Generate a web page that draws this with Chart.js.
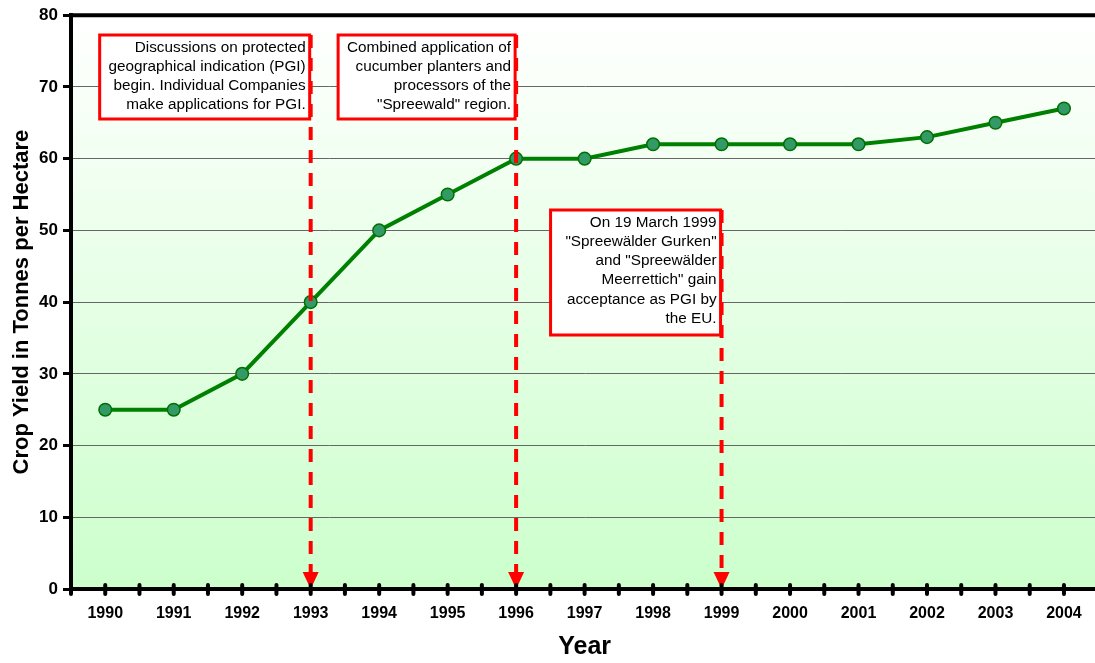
<!DOCTYPE html>
<html>
<head>
<meta charset="utf-8">
<script src="https://cdn.jsdelivr.net/npm/chart.js@4/dist/chart.umd.min.js"></script>
<style>
  html, body { margin: 0; padding: 0; background: #ffffff; overflow: hidden; }
  canvas { display: block; }
</style>
</head>
<body>
<canvas id="c" width="1106" height="663"></canvas>
<script>
// Cucumber crop yield in the Spreewald region
const years = ['1990','1991','1992','1993','1994','1995','1996','1997','1998','1999','2000','2001','2002','2003','2004'];
const yieldTonnes = [25, 25, 30, 40, 50, 55, 60, 60, 62, 62, 62, 62, 63, 65, 67];
const yTicks = [0, 10, 20, 30, 40, 50, 60, 70, 80];

// Milestones marked with a dashed arrow and a note box
const milestoneYears = ['1993', '1996', '1999'];
const milestoneNotes = [
  ['Discussions on protected', 'geographical indication (PGI)', 'begin. Individual Companies', 'make applications for PGI.'],
  ['Combined application of', 'cucumber planters and', 'processors of the', '"Spreewald" region.'],
  ['On 19 March 1999', '"Spreewälder Gurken"', 'and "Spreewälder', 'Meerrettich" gain', 'acceptance as PGI by', 'the EU.']
];
const noteBoxes = [ // width, top, height (px)
  { w: 210, top: 35, h: 84 },
  { w: 177, top: 35, h: 84 },
  { w: 170, top: 210, h: 125 }
];

const FONT = '"Liberation Sans", Arial, Helvetica, sans-serif';

const decorPlugin = {
  id: 'decor',
  beforeDraw(chart) {
    const { ctx, chartArea: a } = chart;
    const g = ctx.createLinearGradient(0, a.top, 0, a.bottom);
    g.addColorStop(0, '#ffffff');
    g.addColorStop(1, '#ccffcc');
    ctx.save();
    ctx.fillStyle = g;
    ctx.fillRect(a.left, a.top, a.right - a.left, a.bottom - a.top);
    ctx.restore();
  },
  afterDatasetsDraw(chart) {
    const { ctx, chartArea: a, scales: { x, y } } = chart;
    ctx.save();
    // top frame line
    ctx.strokeStyle = '#000';
    ctx.lineWidth = 4;
    ctx.beginPath();
    ctx.moveTo(a.left - 2, a.top);
    ctx.lineTo(a.right, a.top);
    ctx.stroke();

    // milestone arrows
    milestoneYears.forEach((yr, k) => {
      const px = x.getPixelForValue(years.indexOf(yr));
      const topY = noteBoxes[k].top;
      const headH = 17, headW = 16;
      ctx.strokeStyle = '#ff0000';
      ctx.lineWidth = 4;
      ctx.setLineDash([13, 10]);
      ctx.beginPath();
      ctx.moveTo(px, topY);
      ctx.lineTo(px, a.bottom - headH);
      ctx.stroke();
      ctx.setLineDash([]);
      ctx.fillStyle = '#ff0000';
      ctx.beginPath();
      ctx.moveTo(px - headW / 2, a.bottom - headH);
      ctx.lineTo(px + headW / 2, a.bottom - headH);
      ctx.lineTo(px, a.bottom);
      ctx.closePath();
      ctx.fill();
    });

    // note boxes
    milestoneYears.forEach((yr, k) => {
      const px = x.getPixelForValue(years.indexOf(yr));
      const b = noteBoxes[k];
      const right = px - 1;
      const left = right - b.w;
      ctx.fillStyle = '#ffffff';
      ctx.fillRect(left, b.top, b.w, b.h);
      ctx.strokeStyle = '#ff0000';
      ctx.lineWidth = 3;
      ctx.strokeRect(left, b.top, b.w, b.h);
      ctx.fillStyle = '#000';
      ctx.font = '15.3px ' + FONT;
      ctx.textAlign = 'right';
      ctx.textBaseline = 'middle';
      milestoneNotes[k].forEach((line, i) => {
        ctx.fillText(line, right - 4, b.top + 12.5 + i * 19.2);
      });
    });

    // x-axis tick marks at every half category
    ctx.strokeStyle = '#000';
    ctx.lineWidth = 4;
    ctx.lineCap = 'round';
    for (let v = -0.5; v <= years.length - 0.5; v += 0.5) {
      const px = x.getPixelForValue(v);
      if (px > a.right + 1) continue;
      ctx.beginPath();
      ctx.moveTo(px, a.bottom - 4);
      ctx.lineTo(px, a.bottom + 5);
      ctx.stroke();
    }
    ctx.restore();
  }
};

new Chart(document.getElementById('c'), {
  type: 'line',
  data: {
    labels: years,
    datasets: [{
      data: yieldTonnes,
      borderColor: '#008000',
      borderWidth: 4,
      tension: 0,
      pointRadius: 6.3,
      pointHoverRadius: 6.3,
      pointBackgroundColor: '#339966',
      pointBorderColor: '#007000',
      pointBorderWidth: 1.5
    }]
  },
  options: {
    responsive: false,
    animation: false,
    events: [],
    layout: { padding: { top: 14, right: 1, left: 0, bottom: 0 } },
    plugins: { legend: { display: false }, tooltip: { enabled: false } },
    scales: {
      x: {
        offset: true,
        grid: { display: false, drawTicks: false },
        border: { display: true, color: '#000', width: 4 },
        ticks: { color: '#000', font: { family: FONT, size: 16, weight: 'bold' }, padding: 15, maxRotation: 0, autoSkip: false },
        title: { display: true, text: 'Year', color: '#000', font: { family: FONT, size: 25, weight: 'bold' }, padding: { top: 0, bottom: 1 } },
        afterFit(s) { s.height = 74; }
      },
      y: {
        min: 0,
        max: 80,
        afterBuildTicks(s) { s.ticks = yTicks.map(v => ({ value: v })); },
        grid: { color: '#666', lineWidth: 1, drawTicks: true, tickLength: 8, tickColor: '#000', tickWidth: 3 },
        border: { display: true, color: '#000', width: 4 },
        ticks: { color: '#000', font: { family: FONT, size: 17, weight: 'bold' }, padding: 5 },
        title: { display: true, text: 'Crop Yield in Tonnes per Hectare', color: '#000', font: { family: FONT, size: 22, weight: 'bold' }, padding: { top: 9, bottom: 0 } },
        afterFit(s) { s.width = 71; }
      }
    }
  },
  plugins: [decorPlugin]
});
</script>
</body>
</html>
